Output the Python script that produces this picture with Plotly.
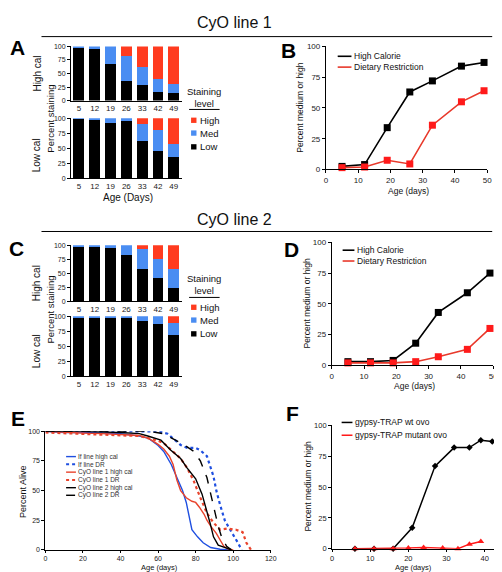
import plotly.graph_objects as go

# ---------------- data ----------------
ages_bar = ["5", "12", "19", "26", "33", "42", "49"]
A_hc_low = [97, 96, 67, 37, 28, 16, 14]
A_hc_med = [3, 4, 33, 45, 34, 24, 17]
A_hc_high = [0, 0, 0, 18, 38, 60, 69]
A_lc_low = [99, 97, 92, 95, 63, 45, 36]
A_lc_med = [1, 3, 8, 5, 28, 35, 21]
A_lc_high = [0, 0, 0, 0, 9, 20, 43]
C_hc_low = [97, 97, 96, 82, 57, 41, 24]
C_hc_med = [3, 3, 4, 18, 37, 34, 33]
C_hc_high = [0, 0, 0, 0, 6, 25, 43]
C_lc_low = [98, 98, 98, 97, 92, 87, 69]
C_lc_med = [2, 2, 2, 3, 8, 13, 19]
C_lc_high = [0, 0, 0, 0, 0, 0, 12]

days_BD = [5, 12, 19, 26, 33, 42, 49]
B_high_cal = [2.5, 4, 34, 63, 72, 84, 87]
B_dr = [1.5, 2, 7.5, 4.5, 36, 55, 64]
D_high_cal = [3, 3, 4, 18, 43, 59, 75]
D_dr = [2, 2, 2, 3, 7, 13, 30]

E_if_hc_x = [0, 10, 20, 30, 40, 50, 55, 60, 63, 67, 70, 73, 75, 76.5, 78, 81, 84, 88, 93, 98]
E_if_hc_y = [100, 99, 99, 98.5, 98, 96, 94, 88, 83, 72, 61, 50, 40, 27, 17, 11, 6, 2, 0.5, 0]
E_if_dr_x = [0, 20, 40, 50, 60, 65, 68.5, 72, 75.5, 80, 82.5, 86, 89.5, 91, 93, 95.5, 98, 100, 102.5, 104.5]
E_if_dr_y = [100, 100, 100, 100, 100, 98, 93, 88.5, 86, 86, 84, 79, 62, 50, 38, 25, 18, 13, 6, 0]
E_c1_hc_x = [0, 10, 20, 30, 40, 45, 50, 55, 60, 63, 66, 68, 70, 72, 75, 78, 80, 82, 84.5, 86, 88, 91, 93, 95, 97, 100]
E_c1_hc_y = [100, 99, 98.5, 98, 97.5, 97, 96.5, 94, 89, 85, 79, 72, 59, 50, 44, 41, 40, 36, 30, 25, 20, 14, 8, 3, 1, 0]
E_c1_dr_x = [0, 10, 20, 30, 40, 50, 55, 60, 63, 68, 72, 75.5, 79, 82.5, 86, 89.5, 93, 96.5, 101.5, 105, 107, 109.5]
E_c1_dr_y = [99, 98.5, 98, 97.5, 97, 96, 94, 92, 90, 83, 77, 69, 58, 44, 31, 23, 17, 18, 17, 15, 6, 0]
E_c2_hc_x = [0, 20, 40, 50, 54.5, 61.5, 66.8, 72, 75.5, 80, 83.4, 86, 87.8, 89.5, 92, 96.5, 99]
E_c2_hc_y = [100, 100, 99, 98, 96, 92.5, 84, 77, 69, 60, 47, 33, 22, 11, 4, 1.5, 0]
E_c2_dr_x = [0, 20, 40, 50, 55, 63, 68.5, 74, 79, 82.5, 86, 88.5, 90.3, 92, 94, 96.5, 99]
E_c2_dr_y = [100, 100, 100, 100, 100, 98, 93, 88.5, 83, 75, 61, 44.5, 31, 20, 10, 3, 0]

F_wt_x = [6, 11, 16, 21, 27, 32, 36, 39, 42]
F_wt_y = [0, 0, 0, 17, 67, 82, 82, 88, 87]
F_mut_x = [6, 11, 16, 20, 24, 29, 33, 36, 39]
F_mut_y = [0, 0, 0, 0.5, 1, 0.6, 0, 3.7, 5.8]

# ---------------- helpers ----------------
W, H = 502, 572
FONT = "Liberation Sans, Arial, sans-serif"
RED_BAR = "#FF3B1F"
BLUE_BAR = "#4A8DF2"


def X(px):
    return px / W


def Y(py):
    return 1 - py / H


fig = go.Figure()

# ---------------- stacked bars (A, C) ----------------
bar_sets = [
    (1, A_hc_low, A_hc_med, A_hc_high),
    (2, A_lc_low, A_lc_med, A_lc_high),
    (3, C_hc_low, C_hc_med, C_hc_high),
    (4, C_lc_low, C_lc_med, C_lc_high),
]
for n, lo, me, hi in bar_sets:
    xa = "x" if n == 1 else "x%d" % n
    ya = "y" if n == 1 else "y%d" % n
    for vals, col, nm in [(lo, "black", "Low"), (me, BLUE_BAR, "Med"), (hi, RED_BAR, "High")]:
        fig.add_trace(go.Bar(x=ages_bar, y=vals, marker=dict(color=col, line=dict(width=0)),
                             width=0.69, name=nm, xaxis=xa, yaxis=ya, showlegend=False))

# ---------------- B, D ----------------
for n, hc, dr in [(5, B_high_cal, B_dr), (6, D_high_cal, D_dr)]:
    fig.add_trace(go.Scatter(x=days_BD, y=hc, mode="lines+markers",
                             line=dict(color="black", width=1.6),
                             marker=dict(symbol="square", size=7, color="black"),
                             xaxis="x%d" % n, yaxis="y%d" % n, showlegend=False, cliponaxis=False))
    fig.add_trace(go.Scatter(x=days_BD, y=dr, mode="lines+markers",
                             line=dict(color="#E8392B", width=1.6),
                             marker=dict(symbol="square", size=7, color="#FF1A1A"),
                             xaxis="x%d" % n, yaxis="y%d" % n, showlegend=False, cliponaxis=False))

# ---------------- E ----------------
E_BLUE = "#1F4FE0"
E_RED = "#E8432C"
surv = [
    (E_if_hc_x, E_if_hc_y, E_BLUE, "solid", 1.4),
    (E_if_dr_x, E_if_dr_y, E_BLUE, "dot", 2.2),
    (E_c1_hc_x, E_c1_hc_y, E_RED, "solid", 1.4),
    (E_c1_dr_x, E_c1_dr_y, E_RED, "dot", 2.2),
    (E_c2_hc_x, E_c2_hc_y, "black", "solid", 1.4),
    (E_c2_dr_x, E_c2_dr_y, "black", "dash", 1.4),
]
for xs, ys, col, dash, wd in surv:
    fig.add_trace(go.Scatter(x=xs, y=ys, mode="lines", line=dict(color=col, dash=dash, width=wd),
                             xaxis="x7", yaxis="y7", showlegend=False, cliponaxis=False))

# ---------------- F ----------------
fig.add_trace(go.Scatter(x=F_wt_x, y=F_wt_y, mode="lines+markers",
                         line=dict(color="black", width=1.5),
                         marker=dict(symbol="diamond", size=5, color="black"),
                         xaxis="x8", yaxis="y8", showlegend=False, cliponaxis=False))
fig.add_trace(go.Scatter(x=F_mut_x, y=F_mut_y, mode="lines+markers",
                         line=dict(color="#FF1A1A", width=1.5),
                         marker=dict(symbol="triangle-up", size=6, color="#FF1A1A"),
                         xaxis="x8", yaxis="y8", showlegend=False, cliponaxis=False))

# ---------------- axes ----------------
common = dict(showgrid=False, zeroline=False, showline=True, linecolor="black", linewidth=1,
              ticks="outside", ticklen=3, tickcolor="black", tickwidth=1,
              tickfont=dict(family=FONT, size=8, color="#222"))

bar_x_dom = [X(62), X(174.5)]
bar_axes = {1: (90, 35), 2: (169, 108), 3: (294, 237), 4: (370, 309)}
layout = {}
for n, (yb, yt) in bar_axes.items():
    xk = "xaxis" if n == 1 else "xaxis%d" % n
    yk = "yaxis" if n == 1 else "yaxis%d" % n
    xa = "x" if n == 1 else "x%d" % n
    ya = "y" if n == 1 else "y%d" % n
    layout[xk] = dict(common, domain=bar_x_dom, anchor=ya, type="category", range=[-0.5, 6.5],
                      ticks="", tickfont=dict(family=FONT, size=8, color="#222"))
    layout[yk] = dict(common, domain=[Y(yb), Y(yt)], anchor=xa, range=[0, 100],
                      tickvals=[0, 25, 50, 75, 100], tickfont=dict(family=FONT, size=7, color="#222"))

line_axes = {
    5: ((321, 485), (160, 35), [0, 50], [0, 10, 20, 30, 40, 50], 8),
    6: ((327, 491), (359, 234), [0, 50], [0, 10, 20, 30, 40, 50], 8),
    7: ((36, 265), (546.5, 426), [0, 120], [0, 20, 40, 60, 80, 100, 120], 7),
    8: ((327.3, 501.7), (545.3, 420), [0, 45], [0, 10, 20, 30, 40], 7.5),
}
for n, ((x0, x1), (yb, yt), xr, xt, fs) in line_axes.items():
    layout["xaxis%d" % n] = dict(common, domain=[X(x0), X(x1)], anchor="y%d" % n, range=xr,
                                 tickvals=xt, ticklen=2 if n >= 7 else 3,
                                 tickfont=dict(family=FONT, size=fs, color="#222"))
    layout["yaxis%d" % n] = dict(common, domain=[Y(yb), Y(yt)], anchor="x%d" % n, range=[0, 100],
                                 tickvals=[0, 25, 50, 75, 100],
                                 tickfont=dict(family=FONT, size=fs, color="#222"))

fig.update_layout(**layout)

# ---------------- text ----------------
ann = []


def text(px, py, s, size, angle=0, bold=False, xanchor="center", color="#111"):
    if bold:
        s = "<b>%s</b>" % s
    ann.append(dict(x=X(px), y=Y(py), xref="paper", yref="paper", text=s, showarrow=False,
                    textangle=angle, xanchor=xanchor, yanchor="middle", borderpad=0,
                    font=dict(family=FONT, size=size, color=color)))


text(228, 11, "CyO line 1", 16)
text(228, 211, "CyO line 2", 16)
for lab, px, py in [("A", 8, 36), ("B", 283, 39), ("C", 7, 240), ("D", 286, 241), ("E", 8, 413), ("F", 287, 408)]:
    text(px, py, lab, 21, bold=True, color="black")

# A / C axis labels
text(27, 63, "High cal", 10, angle=-90)
text(41, 108, "Percent staining", 9.5, angle=-90)
text(27, 146, "Low cal", 10, angle=-90)
text(120, 188, "Age (Days)", 10)
text(27, 276, "High cal", 10, angle=-90)
text(41, 302, "Percent staining", 9.5, angle=-90)
text(27, 345, "Low cal", 10, angle=-90)

# staining legends
shapes = []
for (ty, ly, rows) in [(87, 99, (110, 123, 137)), (277, 290, (300, 313, 327))]:
    text(197, ty, "Staining<br>level", 9.5)
    shapes.append(dict(type="line", xref="paper", yref="paper", x0=X(182), x1=X(213),
                       y0=Y(ly), y1=Y(ly), line=dict(color="black", width=1)))
    for ry, col, nm in zip(rows, [RED_BAR, BLUE_BAR, "black"], ["High", "Med", "Low"]):
        shapes.append(dict(type="rect", xref="paper", yref="paper", x0=X(184), x1=X(189.5),
                           y0=Y(ry + 2.7), y1=Y(ry - 2.7), fillcolor=col, line=dict(width=0)))
        text(192, ry, nm, 9.5, xanchor="left")

# B / D labels + legends
text(295, 97, "Percent medium or high", 8.5, angle=-90)
text(405, 182, "Age (days)", 8.5)
text(302, 296, "Percent medium or high", 8.5, angle=-90)
text(411, 380, "Age (days)", 8.5)
for (lx0, lx1, tx, r1, r2) in [(333, 347, 349, 45, 56), (338, 350, 352, 242, 253)]:
    shapes.append(dict(type="line", xref="paper", yref="paper", x0=X(lx0), x1=X(lx1),
                       y0=Y(r1), y1=Y(r1), line=dict(color="black", width=1.6)))
    shapes.append(dict(type="line", xref="paper", yref="paper", x0=X(lx0), x1=X(lx1),
                       y0=Y(r2), y1=Y(r2), line=dict(color="#E8392B", width=1.6)))
    text(tx, r1, "High Calorie", 8.5, xanchor="left")
    text(tx, r2, "Dietary Restriction", 8.5, xanchor="left")

# E labels + legend
text(14, 487, "Percent Alive", 9, angle=-90)
text(152, 564.5, "Age (days)", 7.5)
e_rows = [451.7, 459.5, 467.5, 475.5, 483.3, 491]
e_names = ["If line high cal", "If line DR", "CyO line 1 high cal", "CyO line 1 DR",
           "CyO line 2 high cal", "CyO line 2 DR"]
for ry, nm, (xs, ys, col, dash, wd) in zip(e_rows, e_names, surv):
    shapes.append(dict(type="line", xref="paper", yref="paper", x0=X(57), x1=X(67),
                       y0=Y(ry), y1=Y(ry), line=dict(color=col, dash=dash, width=wd)))
    text(68, ry, nm, 6.5, xanchor="left", color="#333")

# F labels + legend
text(303, 482, "Percent medium or high", 8.5, angle=-90)
text(410, 564.5, "Age (days)", 7.5)
shapes.append(dict(type="line", xref="paper", yref="paper", x0=X(337), x1=X(348),
                   y0=Y(417), y1=Y(417), line=dict(color="black", width=1.5)))
shapes.append(dict(type="line", xref="paper", yref="paper", x0=X(337), x1=X(348),
                   y0=Y(430), y1=Y(430), line=dict(color="#FF1A1A", width=1.5)))
text(350, 417, "gypsy-TRAP wt ovo", 8.5, xanchor="left")
text(350, 430, "gypsy-TRAP mutant ovo", 8.5, xanchor="left")

# section rules
for ly in (25, 223):
    shapes.append(dict(type="line", xref="paper", yref="paper", x0=X(32), x1=X(490),
                       y0=Y(ly), y1=Y(ly), line=dict(color="black", width=1)))

fig.update_layout(width=W, height=H, autosize=False, margin=dict(l=0, r=0, t=0, b=0),
                  paper_bgcolor="white", plot_bgcolor="white", barmode="stack",
                  annotations=ann, shapes=shapes, showlegend=False,
                  font=dict(family=FONT))

fig.write_html("out.html")
